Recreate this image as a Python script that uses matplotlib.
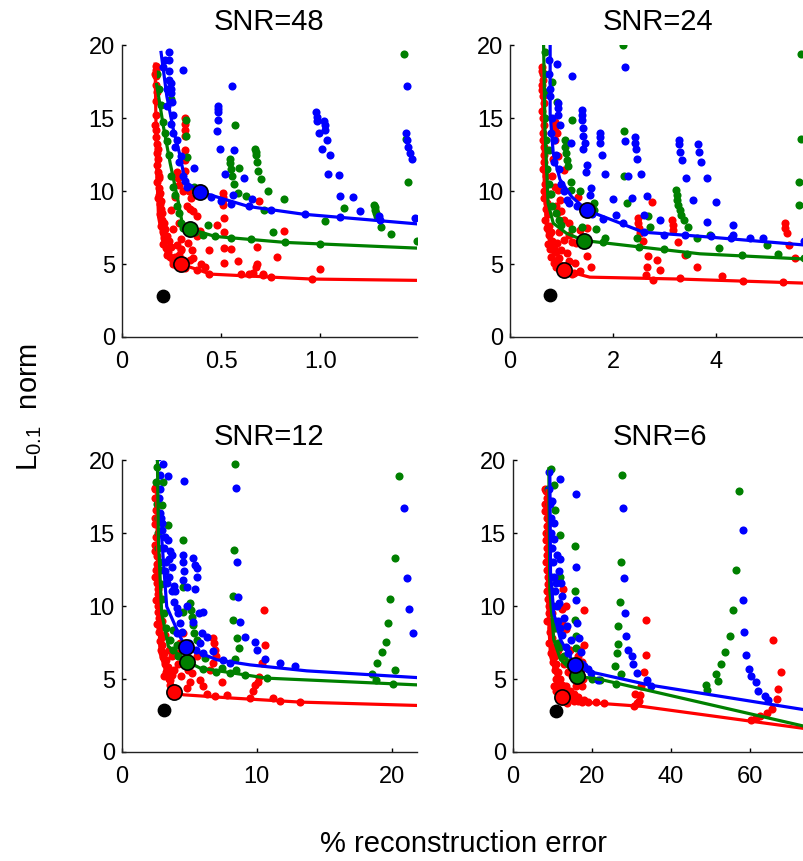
import numpy as np
import matplotlib
matplotlib.use("Agg")
import matplotlib.pyplot as plt

plt.rcParams['font.family'] = ['Liberation Sans', 'DejaVu Sans']

RED = (1, 0, 0)
GREEN = (0, 0.5, 0)
BLUE = (0, 0, 1)

titles = ['SNR=48', 'SNR=24', 'SNR=12', 'SNR=6']
xlims = [1.485, 5.73, 21.85, 74.7]
xticks = [[0, 0.5, 1.0], [0, 2, 4], [0, 10, 20], [0, 20, 40, 60]]
xticklabels = [['0', '0.5', '1.0'], ['0', '2', '4'], ['0', '10', '20'], ['0', '20', '40', '60']]
yticks = [0, 5, 10, 15, 20]

# ---------------- SNR=48 ----------------
snr48_red = [
    (0.170, 18.6), (0.172, 18.3), (0.175, 17.9), (0.170, 17.3), (0.178, 16.8), (0.175, 15.2),
    (0.172, 13.7), (0.180, 13.2), (0.176, 12.6), (0.185, 12.2), (0.178, 11.8), (0.183, 11.3),
    (0.190, 11.0), (0.180, 10.6), (0.188, 10.2), (0.195, 9.9), (0.185, 9.5), (0.192, 9.1),
    (0.200, 8.8), (0.195, 8.4), (0.205, 8.0), (0.200, 7.6), (0.210, 7.2), (0.215, 6.8),
    (0.210, 6.4), (0.225, 6.1), (0.235, 5.8), (0.245, 5.5), (0.260, 5.2), (0.275, 4.9),
    (0.168, 18.0), (0.172, 16.2), (0.168, 14.5), (0.174, 14.2), (0.182, 12.9), (0.186, 10.9),
    (0.19, 9.7), (0.198, 9.3), (0.205, 8.5), (0.215, 7.8), (0.22, 7.4), (0.23, 6.9),
    (0.24, 6.6), (0.25, 6.2), (0.27, 5.5), (0.29, 5.6), (0.31, 5.3), (0.26, 5.0), (0.23, 5.6),
    (0.28, 6.3), (0.3, 6.0), (0.36, 5.4), (0.4, 5.0), (0.42, 4.8), (0.33, 9.0), (0.35, 9.5),
    (0.31, 10.0),
    (0.32, 4.75), (0.38, 4.6), (0.44, 4.35), (0.60, 4.3), (0.64, 4.3), (0.71, 4.25),
    (0.75, 4.1), (0.96, 3.97),
    (0.32, 15.0), (0.32, 14.6), (0.32, 14.2), (0.32, 13.8), (0.32, 12.8), (0.32, 12.1),
    (0.32, 11.4), (0.28, 11.3), (0.285, 10.9), (0.29, 10.4), (0.34, 10.0), (0.345, 8.8),
    (0.36, 8.6), (0.378, 8.26), (0.395, 7.23), (0.38, 6.95), (0.30, 6.7), (0.33, 7.57),
    (0.336, 6.43), (0.30, 5.97), (0.353, 5.97), (0.345, 5.29), (0.26, 7.4), (0.25, 8.7),
    (0.27, 9.6), (0.29, 7.8),
    (0.508, 9.85), (0.508, 9.6), (0.508, 9.4), (0.51, 9.05), (0.513, 8.14), (0.516, 7.2),
    (0.479, 7.7), (0.437, 5.97), (0.513, 6.1), (0.55, 6.0), (0.513, 5.06), (0.583, 5.2),
    (0.689, 9.3), (0.681, 6.2), (0.681, 5.0), (0.676, 4.8), (0.815, 7.27), (0.782, 5.45),
    (1.0, 4.65), (0.711, 4.3), (0.66, 4.4),
]
snr48_green = [
    (1.42, 19.4), (0.25, 16.3), (0.324, 14.9), (0.323, 13.8), (0.328, 12.3), (0.57, 14.5),
    (0.546, 11.9), (0.546, 12.2), (0.549, 11.5), (0.555, 11.0), (0.563, 10.5), (0.585, 9.85),
    (0.625, 9.69), (0.672, 12.9), (0.674, 12.7), (0.676, 12.5), (0.681, 12.0), (0.685, 11.4),
    (0.703, 10.8), (0.736, 10.0), (0.714, 8.67), (0.818, 9.44), (0.761, 7.18), (0.434, 7.69),
    (1.121, 8.83), (1.025, 7.96), (1.272, 9.05), (1.275, 8.9), (1.277, 8.71), (1.28, 8.5),
    (1.286, 8.3), (1.306, 7.53), (1.353, 7.07), (1.487, 6.61), (1.44, 10.65), (1.429, 13.6),
    (0.366, 10.3), (0.59, 11.6),
    (0.18, 18.0), (0.2, 15.9), (0.21, 14.7), (0.23, 13.4), (0.25, 11.0), (0.27, 9.7),
    (0.29, 8.5), (0.30, 7.8), (0.37, 7.2), (0.41, 7.0), (0.47, 6.9),
    (0.19, 17.0), (0.22, 14.0), (0.24, 12.5), (0.26, 10.3), (0.28, 9.0), (0.31, 7.5),
    (0.55, 6.8), (0.65, 6.7), (0.82, 6.5), (1.0, 6.35),
]
snr48_blue = [
    (0.239, 19.5), (0.239, 19.0), (0.239, 18.2), (0.24, 17.6), (0.247, 17.4), (0.247, 17.0),
    (0.247, 16.7), (0.252, 16.1), (0.306, 18.3), (0.555, 17.2), (0.487, 15.8), (0.487, 15.6),
    (0.487, 15.4), (0.487, 14.9), (0.479, 14.1), (0.496, 12.9), (0.563, 12.8), (0.365, 11.6),
    (0.521, 11.2), (0.617, 10.9), (0.56, 9.74), (0.655, 9.44), (0.98, 15.4), (0.983, 15.1),
    (0.985, 14.8), (0.992, 14.0), (1.008, 12.9), (1.02, 14.8), (1.022, 14.5), (1.025, 14.2),
    (1.034, 13.5), (1.05, 12.5), (1.039, 11.2), (1.092, 11.1), (1.097, 9.67), (1.163, 9.56),
    (1.198, 8.6), (1.294, 8.26), (1.429, 13.96), (1.434, 17.2), (1.434, 13.5), (1.44, 13.0),
    (1.45, 12.6), (1.46, 12.2), (1.474, 8.14),
    (0.21, 18.5), (0.23, 15.8), (0.25, 14.6), (0.27, 13.0), (0.29, 12.0), (0.31, 11.0),
    (0.32, 10.7), (0.64, 8.95), (0.92, 8.4), (0.26, 14.0),
    (0.22, 19.0), (0.23, 17.0), (0.26, 15.2), (0.28, 13.5), (0.3, 12.4), (0.33, 10.3),
    (0.45, 9.6), (0.5, 9.3), (0.55, 9.1), (0.75, 8.7), (1.1, 8.2), (1.3, 8.0),
]
snr48_lines = {
    'red': ([0.168, 0.175, 0.185, 0.21, 0.252, 0.297, 0.395, 0.445, 0.756, 0.958, 1.487],
            [18.7, 12.0, 8.26, 6.43, 5.29, 4.99, 4.56, 4.31, 4.1, 3.97, 3.88]),
    'green': ([0.176, 0.21, 0.244, 0.286, 0.303, 0.345, 0.47, 0.824, 1.487],
              [17.3, 14.4, 11.9, 9.17, 7.9, 7.39, 6.89, 6.48, 6.09]),
    'blue': ([0.198, 0.227, 0.26, 0.294, 0.319, 0.395, 0.639, 0.916, 1.487],
             [19.5, 16.5, 14.2, 12.4, 10.65, 9.94, 8.94, 8.41, 7.75]),
}
snr48_best = {'red': (0.297, 4.99), 'green': (0.345, 7.39), 'blue': (0.395, 9.94)}
snr48_black = (0.21, 2.78)

# ---------------- SNR=24 ----------------
snr24_red = [
    (0.63, 18.5), (0.64, 18.0), (0.62, 17.3), (0.65, 16.5), (0.63, 15.5), (0.66, 14.5),
    (0.64, 13.5), (0.67, 12.5), (0.65, 11.5), (0.68, 10.5), (0.66, 9.5), (0.70, 8.8),
    (0.68, 8.0), (0.72, 7.5), (0.75, 7.0), (0.73, 6.4), (0.78, 6.0), (0.80, 5.5),
    (0.85, 5.1), (0.9, 4.8), (1.2, 4.3),
    (0.62, 18.2), (0.64, 17.6), (0.63, 16.9), (0.66, 16.0), (0.64, 15.0), (0.65, 14.0),
    (0.67, 13.0), (0.66, 12.0), (0.69, 11.0), (0.67, 10.0), (0.71, 9.2), (0.74, 8.4),
    (0.76, 7.6), (0.8, 7.2), (0.82, 6.6), (0.86, 6.2), (0.9, 5.8), (0.95, 5.4),
    (0.98, 4.9), (1.1, 4.6), (1.15, 5.2), (1.25, 4.4), (0.78, 9.8), (0.82, 11.0),
    (0.84, 12.2), (0.9, 9.0), (0.95, 7.2), (1.05, 8.0), (1.2, 6.5), (1.15, 7.0),
    (0.87, 14.75), (0.87, 14.4), (0.91, 13.95), (0.87, 13.5), (0.94, 12.4), (1.04, 11.45),
    (0.87, 10.3), (0.94, 10.1), (0.97, 9.4), (1.0, 8.6), (0.91, 8.5), (1.14, 7.8),
    (1.04, 6.66), (0.91, 6.43), (1.0, 5.97), (1.1, 5.75), (1.26, 5.06), (1.36, 4.5),
    (1.33, 9.62), (1.29, 6.43), (1.49, 5.52), (1.58, 4.79), (1.36, 7.34), (1.49, 7.46),
    (2.49, 8.14), (2.49, 7.8), (2.51, 7.46), (2.52, 7.12), (2.59, 6.55), (2.69, 5.52),
    (2.67, 4.83), (2.85, 5.29), (2.91, 4.6), (2.65, 4.26), (2.78, 3.92), (2.75, 9.28),
    (3.14, 8.03), (3.16, 7.69), (3.17, 7.34), (3.26, 6.5), (3.39, 5.63), (3.63, 4.79),
    (5.34, 7.8), (5.35, 7.46), (5.37, 7.12), (5.42, 6.32), (5.53, 5.4), (4.11, 4.15),
    (4.53, 3.81), (5.31, 3.76), (3.3, 4.04),
]
snr24_green = [
    (2.2, 20.0), (5.66, 19.4), (2.21, 14.1), (5.66, 13.6), (2.21, 11.06), (2.27, 9.17),
    (5.61, 10.65), (5.61, 9.05), (1.2, 14.9), (0.92, 16.1), (0.81, 17.5), (1.07, 13.5),
    (1.07, 13.0), (1.09, 12.6), (1.1, 12.1), (1.13, 11.7), (1.18, 10.65), (1.19, 10.1),
    (1.36, 10.0), (1.63, 9.17), (1.63, 8.7), (1.68, 7.4), (1.39, 7.57), (1.84, 6.77),
    (2.46, 6.77), (2.69, 8.26), (2.72, 7.57), (3.22, 10.1), (3.24, 9.74), (3.25, 9.4),
    (3.27, 9.05), (3.3, 8.7), (3.33, 8.37), (3.37, 8.03), (3.46, 7.57), (3.63, 6.77),
    (3.88, 7.0), (4.05, 6.13), (4.99, 6.3), (5.21, 5.68), (5.7, 5.4), (3.43, 5.7),
    (0.68, 19.5), (0.72, 16.8), (0.75, 12.8), (0.8, 9.8), (0.95, 8.0),
    (0.66, 18.0), (0.68, 15.0), (0.7, 13.5), (0.72, 11.5), (0.76, 10.5), (0.82, 9.0),
    (0.9, 8.5), (1.0, 7.7), (1.2, 7.4), (1.8, 6.5), (2.5, 6.2), (3.0, 6.0), (4.5, 5.6),
]
snr24_blue = [
    (0.81, 20.5), (0.91, 18.7), (1.2, 17.9), (0.94, 16.0), (0.94, 15.7), (0.94, 15.2),
    (0.97, 14.5), (1.18, 13.3), (1.39, 15.55), (1.39, 15.2), (1.39, 14.9), (1.42, 14.3),
    (1.41, 13.8), (1.46, 13.3), (1.41, 12.9), (1.49, 11.8), (1.48, 11.3), (1.57, 10.2),
    (1.55, 9.7), (1.75, 14.0), (1.75, 13.7), (1.75, 13.3), (1.79, 12.5), (1.85, 11.2),
    (2.0, 9.44), (2.05, 8.37), (2.23, 18.5), (2.23, 13.4), (2.3, 11.0), (2.36, 9.5),
    (2.43, 13.7), (2.43, 13.3), (2.45, 12.9), (2.47, 12.2), (2.54, 11.2), (2.67, 9.67),
    (2.91, 8.0), (3.28, 13.5), (3.29, 13.2), (3.3, 12.7), (3.34, 12.1), (3.41, 10.9),
    (3.55, 9.4), (3.66, 13.2), (3.67, 12.7), (3.71, 12.0), (3.82, 10.9), (3.82, 7.9),
    (4.01, 9.28), (4.34, 7.64), (4.34, 7.0), (4.66, 6.77), (4.92, 6.77), (5.7, 6.55),
    (2.6, 8.37), (0.78, 17.0), (0.8, 14.0), (0.85, 12.0), (1.0, 10.5), (1.1, 9.4),
    (0.75, 19.0), (0.76, 18.0), (0.78, 16.5), (0.82, 15.0), (0.85, 13.5), (0.9, 12.5),
    (0.95, 11.5), (1.05, 10.0), (1.15, 9.2), (1.3, 9.0), (1.6, 8.4), (1.8, 8.1),
    (2.2, 7.8), (2.6, 7.2), (3.0, 7.0), (3.4, 7.0), (3.9, 6.9), (4.3, 6.8),
]
snr24_lines = {
    'red': ([0.63, 0.65, 0.71, 0.87, 1.05, 1.55, 3.3, 5.73],
            [18.5, 11.9, 7.34, 5.29, 4.56, 4.1, 3.97, 3.69]),
    'green': ([0.65, 0.68, 0.74, 0.84, 1.1, 1.44, 2.27, 3.69, 5.73],
              [20.6, 14.2, 9.17, 7.8, 7.1, 6.61, 6.27, 5.7, 5.34]),
    'blue': ([0.78, 0.78, 0.84, 0.97, 1.2, 1.5, 2.07, 2.59, 3.69, 5.73],
             [20.6, 15.3, 12.6, 10.8, 9.6, 8.67, 7.9, 7.18, 6.9, 6.3]),
}
snr24_best = {'red': (1.05, 4.56), 'green': (1.44, 6.61), 'blue': (1.5, 8.67)}
snr24_black = (0.78, 2.9)

# ---------------- SNR=12 ----------------
snr12_red = [
    (2.5, 18.0), (2.45, 17.4), (2.55, 16.6), (2.45, 15.6), (2.55, 14.7), (2.5, 13.8),
    (2.6, 12.9), (2.5, 12.0), (2.65, 11.2), (2.55, 10.4), (2.7, 9.6), (2.6, 8.8),
    (2.75, 8.2), (2.85, 7.6), (2.9, 7.0), (3.05, 6.5), (3.2, 6.0), (3.3, 5.5),
    (3.1, 5.2), (3.5, 5.0), (3.6, 4.6), (4.0, 4.3),
    (2.45, 18.1), (2.5, 16.0), (2.5, 14.2), (2.6, 13.4), (2.55, 12.5), (2.6, 11.6),
    (2.65, 10.8), (2.7, 10.0), (2.75, 9.2), (2.85, 8.5), (2.95, 7.9), (3.0, 7.3),
    (3.1, 6.8), (3.3, 6.3), (3.4, 5.8), (3.7, 5.3), (3.9, 5.6), (4.2, 6.0),
    (4.4, 5.2), (4.8, 4.4), (3.0, 9.0), (3.2, 8.0), (3.5, 7.0), (4.0, 6.8),
    (10.5, 9.74), (10.6, 7.34), (10.4, 6.09), (6.79, 7.8), (6.84, 7.46), (6.91, 7.0),
    (6.99, 6.55), (6.79, 6.09), (6.54, 5.63), (7.41, 4.77), (5.06, 4.83), (5.19, 5.4),
    (4.94, 5.63), (4.57, 7.23), (5.56, 6.55), (5.8, 4.95), (6.05, 4.49), (9.75, 4.15),
    (9.88, 4.6), (10.1, 4.83), (10.2, 5.17), (9.5, 3.69), (6.3, 3.97), (6.9, 3.81),
    (7.78, 3.92), (11.2, 3.69), (11.7, 3.47), (13.2, 3.42), (4.57, 8.14), (4.32, 7.46),
    (3.7, 6.55), (3.33, 5.63), (3.58, 4.95),
]
snr12_green = [
    (8.4, 19.7), (8.35, 13.85), (8.27, 10.7), (8.22, 9.05), (8.52, 7.8), (8.69, 7.12),
    (8.4, 6.4), (8.47, 5.63), (20.5, 18.9), (20.25, 13.3), (19.9, 10.5), (19.75, 8.83),
    (19.6, 7.57), (19.3, 6.84), (18.9, 6.09), (18.5, 5.34), (20.25, 5.59), (20.1, 4.65),
    (18.8, 4.95), (4.57, 14.5), (4.57, 11.33), (4.57, 9.62), (3.46, 15.55), (2.96, 16.9),
    (3.09, 18.5), (5.06, 10.2), (5.11, 9.74), (5.19, 9.28), (5.26, 8.7), (5.38, 8.14),
    (5.56, 7.69), (6.17, 6.43), (7.41, 5.75), (9.14, 5.29), (10.74, 5.06), (3.58, 7.69),
    (4.07, 7.34), (3.83, 8.37), (2.6, 19.5), (2.7, 15.0), (2.8, 12.5), (3.0, 10.5),
    (2.55, 18.5), (2.6, 17.0), (2.65, 16.0), (2.7, 14.0), (2.8, 13.0), (2.9, 11.5),
    (3.1, 9.5), (3.3, 8.5), (3.8, 7.0), (4.2, 6.6), (6.0, 5.7), (7.0, 5.5), (8.0, 5.4),
]
snr12_blue = [
    (2.72, 20.2), (3.09, 19.7), (3.46, 18.9), (4.62, 18.6), (8.47, 18.1), (8.52, 13.0),
    (8.64, 10.65), (8.77, 8.94), (9.14, 7.87), (9.88, 7.53), (9.99, 6.96), (10.6, 6.36),
    (11.7, 6.13), (12.8, 5.86), (20.9, 16.7), (21.1, 11.95), (21.3, 9.78), (21.6, 8.14),
    (3.2, 14.75), (3.46, 14.5), (3.58, 13.8), (3.7, 13.5), (3.53, 13.2), (3.7, 12.7),
    (3.88, 11.4), (3.95, 11.0), (4.07, 9.85), (4.57, 13.5), (4.57, 13.0), (4.62, 12.4),
    (4.57, 11.8), (4.81, 11.3), (4.86, 9.97), (5.26, 13.3), (5.43, 12.8), (5.56, 12.6),
    (5.56, 12.0), (5.43, 11.2), (6.05, 9.62), (5.75, 9.5), (5.93, 8.14), (6.35, 7.9),
    (6.79, 6.89), (5.8, 7.46), (5.3, 8.94), (4.32, 8.83), (4.07, 8.14), (3.33, 11.56),
    (3.21, 12.4), (2.96, 15.7), (2.84, 16.4), (2.79, 17.4),
    (2.8, 19.0), (2.85, 18.0), (2.9, 16.0), (3.0, 15.2), (3.1, 14.0), (3.3, 13.0),
    (3.5, 12.0), (3.7, 11.0), (3.9, 10.3), (4.2, 9.5), (4.5, 8.2), (5.0, 7.5),
    (5.5, 7.0), (6.0, 6.8), (7.5, 6.3), (8.0, 6.1),
]
snr12_lines = {
    'red': ([2.59, 2.64, 2.72, 2.84, 3.46, 3.88, 4.57, 8.27, 13.2, 21.85],
            [17.95, 13.4, 9.97, 6.77, 4.95, 4.1, 3.92, 3.69, 3.42, 3.19]),
    'green': ([2.64, 2.72, 2.96, 3.46, 4.86, 5.8, 10.74, 21.85],
              [20.2, 14.5, 9.5, 7.23, 6.2, 5.75, 5.06, 4.6]),
    'blue': ([2.95, 3.33, 4.32, 4.77, 7.04, 9.5, 13.7, 21.85],
             [14.8, 9.97, 7.9, 7.18, 6.32, 5.97, 5.56, 5.1]),
}
snr12_best = {'red': (3.88, 4.1), 'green': (4.86, 6.2), 'blue': (4.77, 7.18)}
snr12_black = (3.14, 2.85)

# ---------------- SNR=6 ----------------
snr6_red = [
    (8.5, 17.9), (8.3, 17.0), (8.7, 16.0), (8.4, 15.0), (8.8, 14.0), (8.5, 13.0),
    (9.0, 12.0), (8.6, 11.0), (9.2, 10.0), (8.8, 9.0), (9.5, 8.2), (9.2, 7.5),
    (9.8, 6.8), (10.2, 6.2), (10.8, 5.6), (11.0, 5.0), (10.5, 4.5), (12.0, 4.3),
    (11.5, 4.8), (13.0, 4.2), (14.0, 3.7), (15.0, 3.6), (16.5, 3.5), (17.5, 4.5),
    (17.8, 5.0), (17.2, 5.6), (17.6, 6.2), (16.5, 6.6), (13.5, 8.4), (12.5, 9.8),
    (8.2, 18.0), (8.6, 17.4), (8.3, 16.5), (8.6, 15.5), (8.5, 14.5), (8.7, 13.5),
    (8.8, 12.5), (8.9, 11.5), (9.0, 10.5), (9.3, 9.5), (9.5, 9.0), (9.8, 8.5),
    (10.0, 7.8), (10.3, 7.2), (10.6, 6.6), (11.0, 6.0), (11.5, 5.5), (12.0, 5.0),
    (12.5, 4.6), (13.5, 4.5), (14.5, 4.2), (15.5, 4.0), (16.5, 3.8), (11.0, 4.2),
    (10.0, 9.5), (10.5, 8.5), (11.5, 7.0), (12.5, 6.5), (13.0, 6.0), (14.0, 5.5),
    (15.0, 5.2), (16.0, 5.6), (17.0, 7.0), (14.5, 7.0), (13.5, 10.0), (17.5, 3.4),
    (19.0, 3.4), (21.0, 3.4), (23.0, 3.35), (31.0, 4.0), (32.0, 3.5),
    (18.0, 9.76), (12.8, 11.2), (12.8, 8.73), (18.0, 7.36), (33.7, 9.07), (33.7, 6.67),
    (33.3, 5.49), (32.6, 4.5), (32.2, 3.93), (31.4, 3.36), (30.8, 3.18), (65.8, 7.7),
    (67.9, 5.49), (67.2, 4.32), (66.8, 3.63), (65.6, 2.95), (64.3, 2.67), (62.6, 2.45),
    (60.4, 2.22), (61.7, 2.33), (18.1, 3.59), (15.6, 3.47), (13.8, 3.36), (12.1, 4.39),
    (16.0, 4.5), (17.3, 5.3),
]
snr6_green = [
    (9.57, 19.4), (10.4, 18.3), (10.6, 16.6), (12.0, 14.9), (12.0, 12.0), (15.7, 14.1),
    (15.7, 11.0), (15.7, 9.07), (16.0, 7.93), (16.0, 7.13), (27.7, 19.0), (27.5, 13.0),
    (27.1, 10.3), (26.7, 8.62), (26.7, 7.43), (26.5, 6.79), (26.0, 5.92), (27.3, 5.37),
    (26.2, 4.66), (57.2, 17.9), (56.6, 12.5), (55.7, 9.76), (54.9, 7.93), (53.8, 6.86),
    (52.7, 6.06), (51.5, 5.37), (51.9, 4.85), (49.3, 4.23), (48.9, 4.62), (9.2, 16.0),
    (9.4, 13.0), (10.0, 11.0), (10.8, 9.0), (11.5, 7.5),
    (9.0, 18.0), (9.2, 17.0), (9.3, 15.0), (9.5, 14.0), (9.7, 12.0), (10.2, 10.0),
    (11.0, 8.5), (12.0, 7.2), (13.0, 6.6), (14.0, 6.2), (20.0, 5.0), (22.0, 4.9),
]
snr6_blue = [
    (9.15, 19.2), (12.0, 18.7), (16.0, 17.7), (27.9, 16.7), (58.3, 15.2), (28.1, 11.9),
    (28.4, 9.5), (28.8, 7.98), (29.2, 7.0), (30.1, 6.56), (30.5, 6.06), (31.4, 5.42),
    (34.0, 4.96), (35.0, 4.55), (16.0, 12.7), (16.0, 10.4), (16.2, 8.85), (16.7, 7.82),
    (17.3, 6.86), (58.3, 10.4), (58.5, 8.2), (59.1, 6.67), (59.8, 5.69), (60.4, 5.23),
    (61.5, 4.78), (62.1, 4.16), (63.8, 3.82), (64.7, 3.54), (10.0, 17.2), (10.4, 15.7),
    (11.3, 13.5), (11.9, 13.2), (11.7, 12.4), (12.1, 11.6), (12.6, 10.7), (13.0, 9.19),
    (13.8, 8.62), (14.7, 7.7), (10.4, 14.6), (10.9, 11.6), (11.7, 10.2), (18.1, 5.87),
    (19.8, 5.42), (21.5, 4.96),
    (9.3, 18.0), (9.5, 17.0), (9.6, 16.0), (9.8, 15.0), (10.0, 14.0), (10.2, 13.0),
    (10.5, 12.0), (10.8, 11.0), (11.2, 10.0), (11.5, 9.0), (12.0, 8.5), (12.5, 8.0),
    (13.5, 7.2), (14.0, 6.8), (17.5, 6.0), (19.0, 5.7),
]
snr6_lines = {
    'red': ([8.7, 8.9, 9.57, 12.6, 18.1, 32.6, 74.7],
            [17.9, 9.99, 6.56, 3.77, 3.41, 3.13, 1.58]),
    'green': ([9.15, 9.4, 10.4, 12.1, 16.4, 22.4, 74.7],
              [19.4, 11.1, 7.7, 6.33, 5.19, 4.96, 1.71]),
    'blue': ([9.4, 9.57, 10.4, 12.1, 15.7, 19.0, 34.4, 74.7],
             [19.2, 12.3, 9.5, 7.7, 5.97, 5.53, 4.6, 2.86]),
}
snr6_best = {'red': (12.6, 3.77), 'green': (16.4, 5.19), 'blue': (15.7, 5.97)}
snr6_black = (10.85, 2.79)

panels = [
    (snr48_red, snr48_green, snr48_blue, snr48_lines, snr48_best, snr48_black),
    (snr24_red, snr24_green, snr24_blue, snr24_lines, snr24_best, snr24_black),
    (snr12_red, snr12_green, snr12_blue, snr12_lines, snr12_best, snr12_black),
    (snr6_red, snr6_green, snr6_blue, snr6_lines, snr6_best, snr6_black),
]

# axes boxes in figure fractions [left, bottom, width, height]
boxes = [
    [0.1514, 0.6086, 0.367, 0.339],
    [0.6343, 0.6086, 0.367, 0.339],
    [0.1514, 0.1266, 0.367, 0.339],
    [0.6377, 0.1266, 0.367, 0.339],
]

fig = plt.figure(figsize=(8.04, 8.61), dpi=100)
colors = {'red': RED, 'green': GREEN, 'blue': BLUE}

for i, (red, green, blue, lines, best, black) in enumerate(panels):
    ax = fig.add_axes(boxes[i])
    for pts, c in [(red, RED), (green, GREEN), (blue, BLUE)]:
        p = np.array(pts)
        ax.scatter(p[:, 0], p[:, 1], s=34, color=c, linewidths=0, zorder=2)
    for name in ['red', 'green', 'blue']:
        lx, ly = lines[name]
        ax.plot(lx, ly, color=colors[name], lw=2.3, zorder=3)
    for name in ['red', 'green', 'blue']:
        bx, by = best[name]
        ax.scatter([bx], [by], s=120, color=colors[name], edgecolors='black',
                   linewidths=1.2, zorder=4)
    ax.scatter([black[0]], [black[1]], s=80, color='black', zorder=4)

    ax.set_xlim(0, xlims[i])
    ax.set_ylim(0, 20)
    ax.set_xticks(xticks[i])
    ax.set_xticklabels(xticklabels[i])
    ax.set_yticks(yticks)
    ax.spines['top'].set_visible(False)
    ax.spines['right'].set_visible(False)
    for s in ['left', 'bottom']:
        ax.spines[s].set_linewidth(1.0)
        ax.spines[s].set_color('#222222')
    ax.tick_params(axis='both', direction='in', length=3, width=1, labelsize=17)
    ax.tick_params(axis='x', pad=10)
    ax.tick_params(axis='y', pad=5)
    ax.set_title(titles[i], fontsize=21, pad=11)

fig.text(0.037, 0.527, r'$\mathregular{L_{0.1}}$  norm', rotation=90,
         fontsize=21, ha='center', va='center')
fig.text(0.576, 0.020, '% reconstruction error', fontsize=21, ha='center', va='center')

fig.savefig('out.png', dpi=100)
